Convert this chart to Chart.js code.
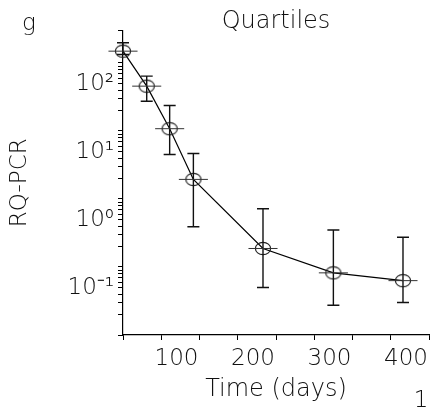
<!DOCTYPE html>
<html>
<head>
<meta charset="utf-8">
<script src="https://cdn.jsdelivr.net/npm/chart.js@4.4.1/dist/chart.umd.min.js"></script>
<style>
  html, body { margin: 0; padding: 0; background: #fff; }
</style>
</head>
<body>
<canvas id="ctx" width="432" height="410"></canvas>
<script>
// time points (days) and RQ-PCR quartiles
const days = [0, 31, 61, 92, 183, 275, 366];
const median = [149, 45.6, 10.8, 1.94, 0.187, 0.082, 0.063];
const upperQ = [198, 64, 23.7, 4.67, 0.72, 0.35, 0.274];
const lowerQ = [133, 27.4, 4.5, 0.39, 0.05, 0.0274, 0.030];
const dayHalfWidth = 19;

const xTicks = [0, 50, 100, 150, 200, 250, 300, 350, 400];
const xLabelled = [100, 200, 300, 400];
const yDecades = [0.01, 0.1, 1, 10, 100];
const yMantissas = [1, 2, 3, 4, 5, 6, 7, 8, 9];
const yLabels = { "-1": "10\u207B\u00B9", "0": "10\u2070", "1": "10\u00B9", "2": "10\u00B2" };
const yMin = 0.01, yMax = 300;

const FONT = "'DejaVu Sans ExtraLight', 'DejaVu Sans', sans-serif";
const WEIGHT = 200;
const INK = "#111";

const yTicks = [];
yDecades.forEach(d => yMantissas.forEach(m => {
  const v = d * m;
  if (v <= yMax * 1.0001) yTicks.push(v);
}));

// open ellipse used as the point marker
const marker = document.createElement("canvas");
marker.width = 18;
marker.height = 15;
{
  const c = marker.getContext("2d");
  c.strokeStyle = "#222";
  c.lineWidth = 1.2;
  c.beginPath();
  c.ellipse(9, 7.5, 7.6, 6.2, 0, 0, Math.PI * 2);
  c.stroke();
}

const errorBars = {
  id: "errorBars",
  afterDatasetsDraw(chart) {
    const { ctx, scales: { x, y } } = chart;
    ctx.save();
    days.forEach((d, i) => {
      const px = x.getPixelForValue(d);
      const yHi = y.getPixelForValue(upperQ[i]);
      const yLo = y.getPixelForValue(lowerQ[i]);
      const yMid = y.getPixelForValue(median[i]);
      ctx.strokeStyle = "#111";
      ctx.lineWidth = 1.4;
      ctx.beginPath();
      ctx.moveTo(px, yHi); ctx.lineTo(px, yLo);
      ctx.moveTo(px - 6, yHi); ctx.lineTo(px + 6, yHi);
      ctx.moveTo(px - 6, yLo); ctx.lineTo(px + 6, yLo);
      ctx.stroke();
      ctx.strokeStyle = "#333";
      ctx.lineWidth = 1;
      ctx.beginPath();
      ctx.moveTo(x.getPixelForValue(d - dayHalfWidth), yMid);
      ctx.lineTo(x.getPixelForValue(d + dayHalfWidth), yMid);
      ctx.stroke();
    });
    ctx.restore();
  }
};

const cornerText = {
  id: "cornerText",
  afterDraw(chart) {
    const { ctx } = chart;
    ctx.save();
    ctx.fillStyle = INK;
    ctx.font = WEIGHT + " 23px " + FONT;
    ctx.textAlign = "center";
    ctx.textBaseline = "alphabetic";
    ctx.fillText("g", 29, 30);
    ctx.fillText("1", 421, 407);
    ctx.restore();
  }
};

const isDecade = v => Math.abs(Math.log10(v) - Math.round(Math.log10(v))) < 1e-6;
const textFont = size => ({ family: FONT, size, weight: WEIGHT, lineHeight: 1.2 });

new Chart(document.getElementById("ctx"), {
  type: "line",
  data: {
    datasets: [{
      data: days.map((d, i) => ({ x: d, y: median[i] })),
      borderColor: "#000",
      borderWidth: 1.2,
      tension: 0,
      fill: false,
      clip: false,
      pointStyle: marker,
      pointRadius: 7,
      pointHoverRadius: 7
    }]
  },
  options: {
    responsive: false,
    animation: false,
    events: [],
    layout: { autoPadding: false, padding: { left: 0, right: 3, top: 0, bottom: 0 } },
    plugins: {
      legend: { display: false },
      tooltip: { enabled: false },
      title: {
        display: true,
        fullSize: false,
        text: "Quartiles",
        color: INK,
        font: textFont(24),
        padding: { top: 7.6, bottom: -5.9 }
      }
    },
    scales: {
      x: {
        type: "linear",
        min: 0,
        max: 400,
        afterBuildTicks: s => { s.ticks = xTicks.map(v => ({ value: v })); },
        afterFit: s => { s.height = 75; s.paddingLeft = 0; s.paddingRight = 0; },
        ticks: {
          autoSkip: false,
          maxRotation: 0,
          padding: 5,
          labelOffset: -23,
          color: INK,
          font: textFont(23),
          callback: v => (xLabelled.includes(v) ? String(v) : "")
        },
        grid: { drawOnChartArea: false, drawTicks: true, tickLength: 5, tickColor: "#000", tickWidth: 1 },
        border: { display: true, color: "#000", width: 1.2 },
        title: {
          display: true,
          text: "Time (days)",
          color: INK,
          font: textFont(24),
          padding: { top: 0, bottom: 6 }
        }
      },
      y: {
        type: "logarithmic",
        min: yMin,
        max: yMax,
        afterBuildTicks: s => { s.ticks = yTicks.map(v => ({ value: v })); },
        afterFit: s => { s.width = 123; s.paddingTop = 0; s.paddingBottom = 0; },
        ticks: {
          autoSkip: false,
          padding: 4,
          labelOffset: 21,
          color: INK,
          font: textFont(23),
          callback: v => {
            if (!isDecade(v)) return "";
            return yLabels[String(Math.round(Math.log10(v)))] || "";
          }
        },
        grid: { drawOnChartArea: false, drawTicks: true, tickLength: 5, tickColor: "#000", tickWidth: 1 },
        border: { display: true, color: "#000", width: 1.2 },
        title: {
          display: true,
          text: "RQ-PCR",
          color: INK,
          font: textFont(23),
          padding: { top: 6, bottom: 0 }
        }
      }
    }
  },
  plugins: [errorBars, cornerText]
});
</script>
</body>
</html>
